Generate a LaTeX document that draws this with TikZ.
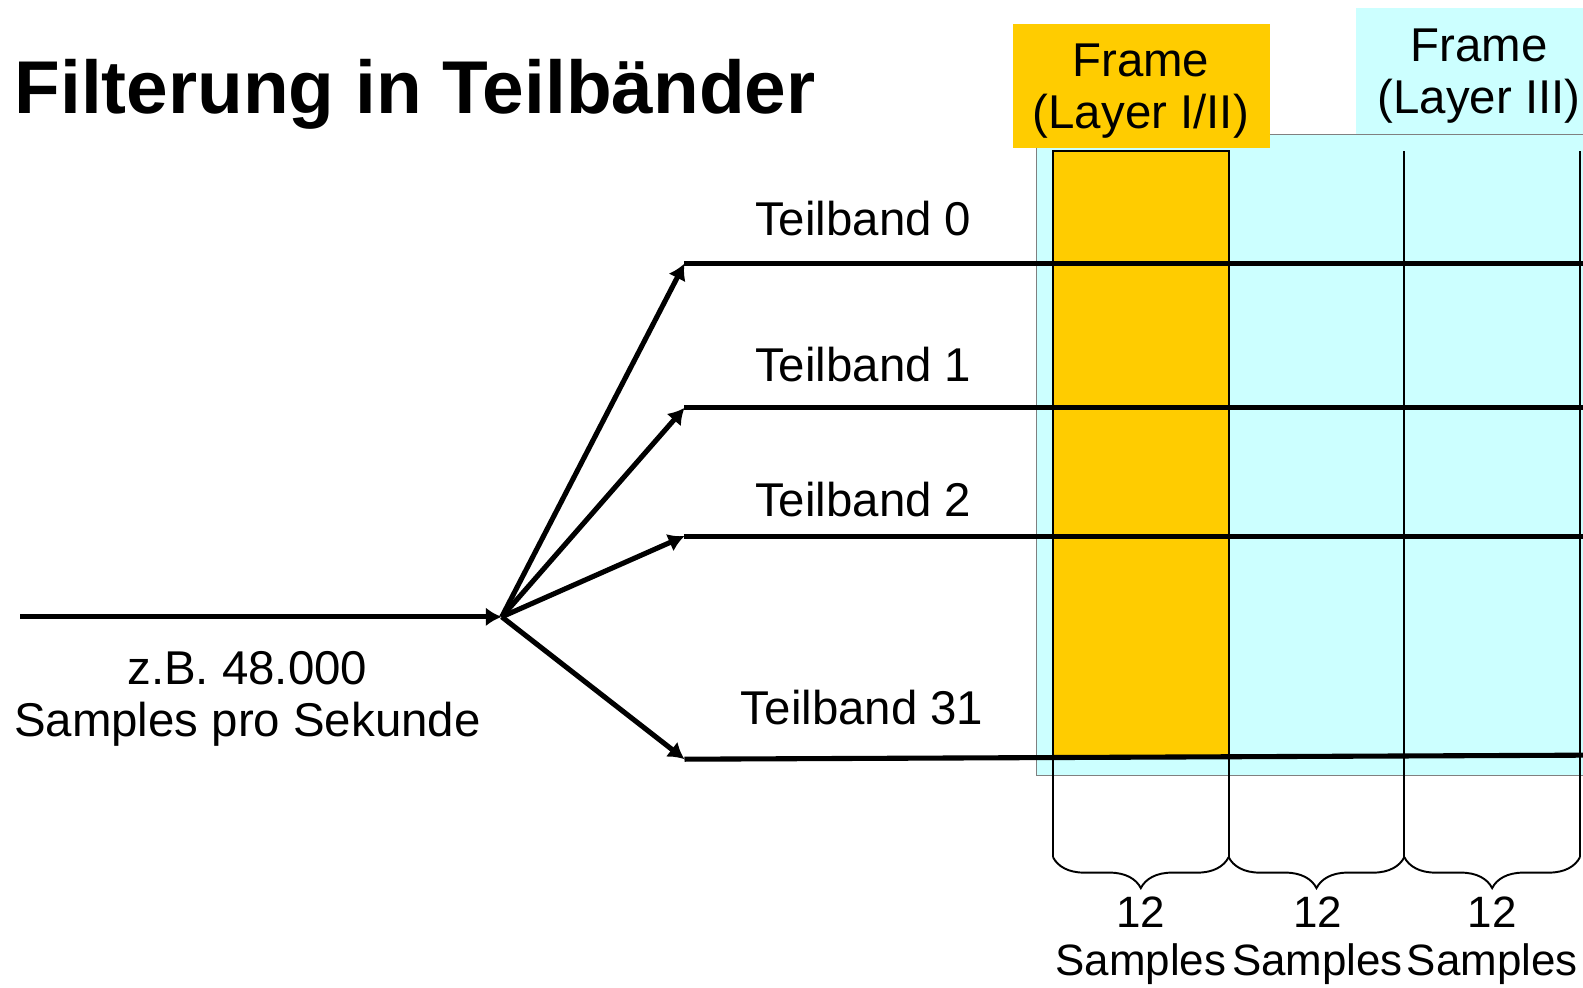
\documentclass[tikz,border=0pt]{standalone}
\usepackage{fontspec}
\setmainfont{Liberation Sans}
\usetikzlibrary{arrows.meta, decorations.pathreplacing}
\definecolor{framegold}{HTML}{FFCC00}
\definecolor{framecyan}{HTML}{CCFFFF}
\tikzset{
  band/.style = {line width = 2.9pt},
  feed/.style = {line width = 2.9pt, -{Latex[length = 3.2mm, width = 3.8mm]}},
  lbl/.style = {font = \fontsize{27}{29.5}\selectfont, inner sep = 0, align = center},
  sep/.style = {line width = 1.1pt},
  grp/.style = {line width = 1.1pt, decorate, decoration = {brace, amplitude = 0.62cm}}
}
\begin{document}
\begin{tikzpicture}[x = 0.0202cm, y = -0.0202cm]
    \useasboundingbox (0, 0) rectangle (1568, 978);

    \node [anchor = base west, inner sep = 0, font = \bfseries\fontsize{42.6}{50}\selectfont] (title) at (14, 112) {Filterung in Teilbänder};

    % frame areas
    \draw [gray, fill = framecyan] (1027, 133) rectangle (1600, 768);
    \fill [framecyan] (1343, 8) rectangle (1600, 133);
    \fill [framegold] (1003, 24) rectangle (1258, 147);
    \fill [framegold] (1043, 150) rectangle (1217, 752);

    \node [lbl] (frame12) at (1130, 90) {Frame\\(Layer I/II)};
    \node [lbl] (frame3) at (1465, 75) {Frame\\(Layer III)};

    \draw [sep] (1043, 849) -- (1043, 150) -- (1217, 150) -- (1217, 849);
    \draw [sep] (1391, 150) -- (1391, 849);
    \draw [sep] (1565, 150) -- (1565, 849);

    % subbands
    \coordinate (in) at (20, 611);
    \coordinate (split) at (497, 611);
    \coordinate (b0) at (678, 261);
    \coordinate (b1) at (678, 404);
    \coordinate (b2) at (678, 531);
    \coordinate (b31) at (678, 752);
    \coordinate (e0) at (1568, 261);
    \coordinate (e1) at (1568, 404);
    \coordinate (e2) at (1568, 531);
    \coordinate (e31) at (1568, 748);

    \draw [band] (b0) -- (e0);
    \draw [band] (b1) -- (e1);
    \draw [band] (b2) -- (e2);
    \draw [band] (b31) -- (e31);

    \draw [feed] (in) -- (split);
    \draw [feed] (split) -- (b0);
    \draw [feed] (split) -- (b1);
    \draw [feed] (split) -- (b2);
    \draw [feed] (split) -- (b31);

    \node [lbl, anchor = base] (t0) at (855, 233) {Teilband 0};
    \node [lbl, anchor = base] (t1) at (855, 378) {Teilband 1};
    \node [lbl, anchor = base] (t2) at (855, 512) {Teilband 2};
    \node [lbl, anchor = base] (t31) at (854, 718) {Teilband 31};

    \node [lbl] (rate) at (245, 692) {z.B. 48.000\\Samples pro Sekunde};

    % sample groups
    \draw [grp] (1217, 849) -- (1043, 849);
    \draw [grp] (1391, 849) -- (1217, 849);
    \draw [grp] (1565, 849) -- (1391, 849);

    \node [lbl, font = \fontsize{25}{27}\selectfont] (g1) at (1130, 932) {12\\Samples};
    \node [lbl, font = \fontsize{25}{27}\selectfont] (g2) at (1305, 932) {12\\Samples};
    \node [lbl, font = \fontsize{25}{27}\selectfont] (g3) at (1478, 932) {12\\Samples};
  \end{tikzpicture}
\end{document}
